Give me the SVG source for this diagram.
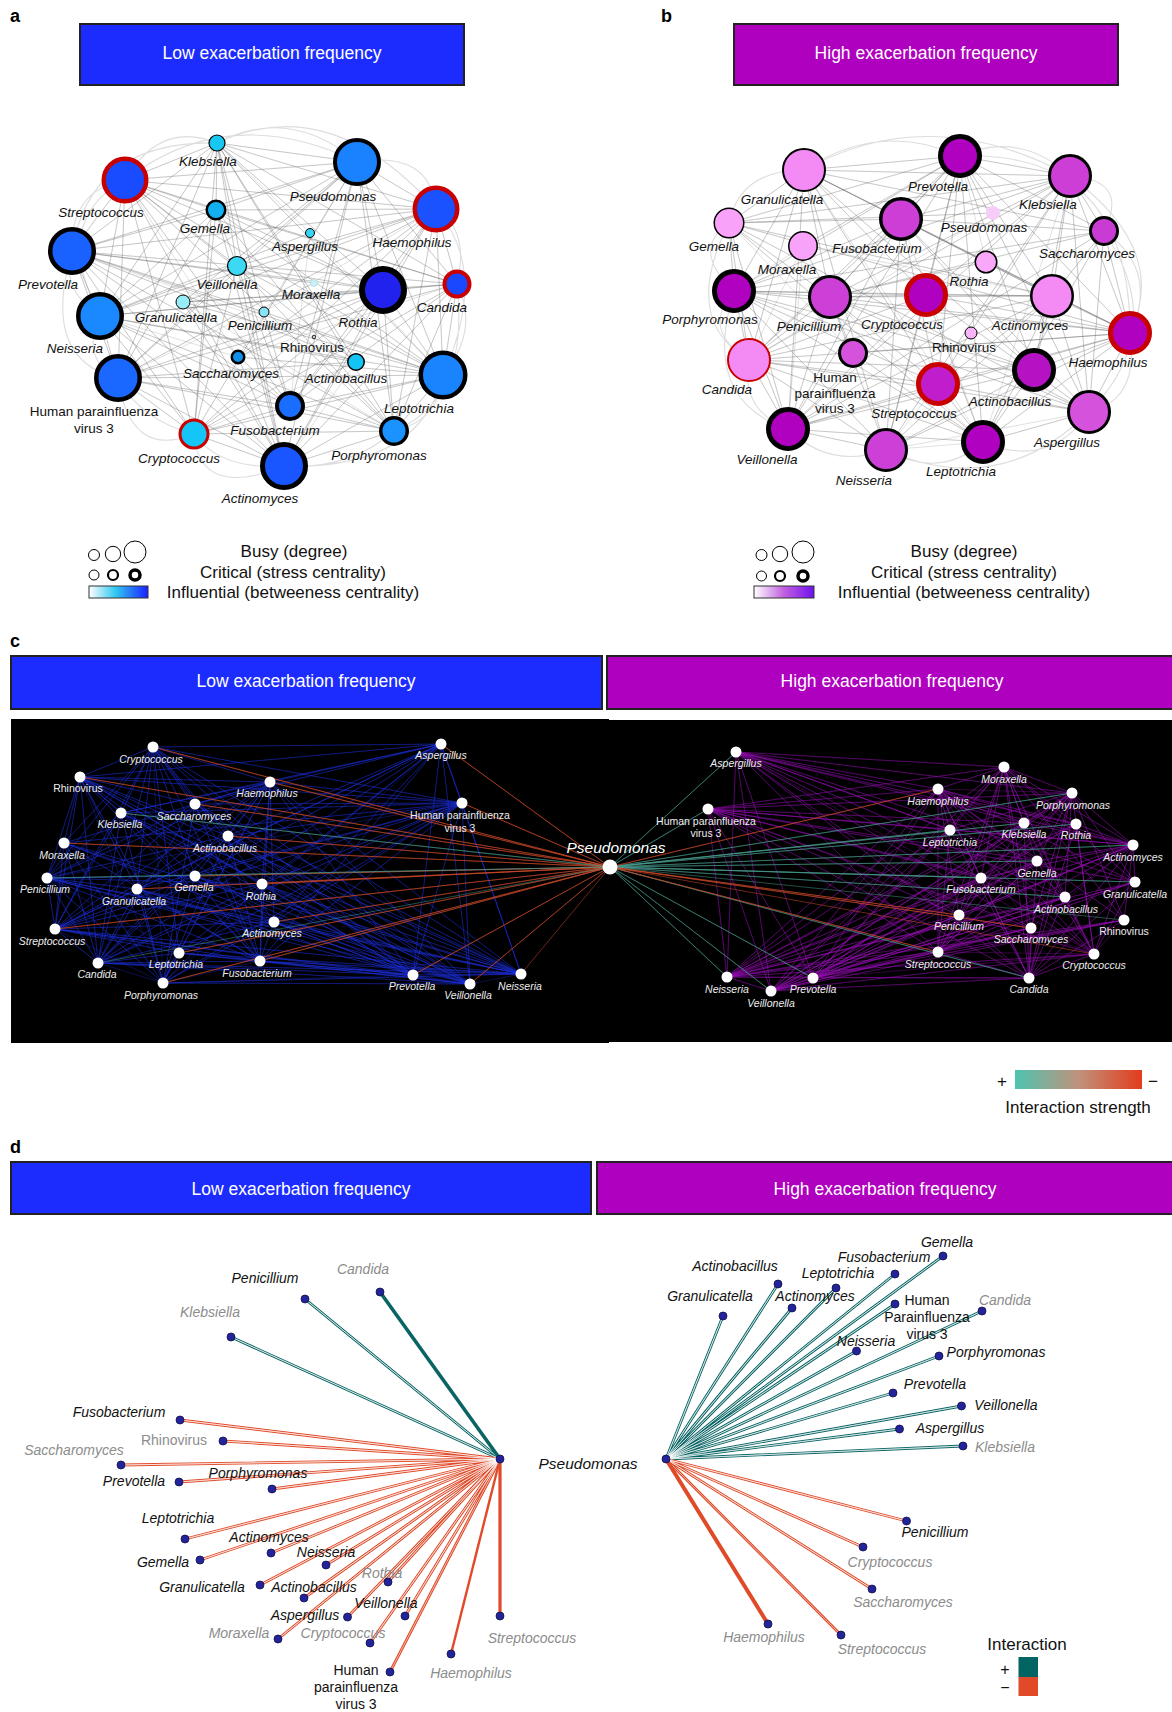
<svg xmlns="http://www.w3.org/2000/svg" width="1172" height="1712" viewBox="0 0 1172 1712">
<defs>
<linearGradient id="gA" x1="0" x2="1" y1="0" y2="0"><stop offset="0" stop-color="#ffffff"/><stop offset="0.45" stop-color="#30c8f0"/><stop offset="1" stop-color="#1a20ff"/></linearGradient>
<linearGradient id="gB" x1="0" x2="1" y1="0" y2="0"><stop offset="0" stop-color="#ffffff"/><stop offset="0.5" stop-color="#c060e0"/><stop offset="1" stop-color="#7010f0"/></linearGradient>
<linearGradient id="gC" x1="0" x2="1" y1="0" y2="0"><stop offset="0" stop-color="#4cc4b0"/><stop offset="0.5" stop-color="#c0927c"/><stop offset="1" stop-color="#e23c1c"/></linearGradient>
</defs>
<style>
text{font-family:"Liberation Sans",Arial,sans-serif}
.pl{font-size:18px;font-weight:bold;fill:#000}
.hd{font-size:17.5px;fill:#fff;text-anchor:middle}
.hb{stroke:#222;stroke-width:2}
.na{font-size:13.5px;font-style:italic;fill:#111;text-anchor:middle}
.nr{font-size:13.5px;fill:#111;text-anchor:middle}
.lg{font-size:17px;fill:#111;text-anchor:middle}
.nc{font-size:10.5px;font-style:italic;fill:#eee;text-anchor:middle}
.ncr{font-size:10.5px;fill:#eee;text-anchor:middle}
.nd{font-size:14px;font-style:italic;fill:#111;text-anchor:middle}
.ndr{font-size:14px;fill:#111;text-anchor:middle}
.ng{font-size:14px;font-style:italic;fill:#8c8c8c;text-anchor:middle}
.ngr{font-size:14px;fill:#8c8c8c;text-anchor:middle}
.k{stroke:#000}
.r{stroke:#c80000}
.ea{fill:none;stroke:#606060;stroke-width:0.8;stroke-opacity:0.24;stroke-linejoin:round}
.ec{fill:none;stroke:#909090;stroke-width:1.1;stroke-opacity:0.3}
.cb{fill:none;stroke:#2030e0;stroke-width:0.6;stroke-opacity:0.55;stroke-linejoin:round}
.cp{fill:none;stroke:#9a10b8;stroke-width:0.6;stroke-opacity:0.55;stroke-linejoin:round}
.cr{fill:none;stroke:#d04a2a;stroke-width:0.7;stroke-opacity:0.75;stroke-linejoin:round}
.ct{fill:none;stroke:#4aa090;stroke-width:0.7;stroke-opacity:0.7;stroke-linejoin:round}
.wd{fill:#fff}
.dT{fill:none;stroke:#0a6464;stroke-width:2.8;stroke-linejoin:round}
.dR{fill:none;stroke:#e04a28;stroke-width:2.8;stroke-linejoin:round}
.dW{fill:none;stroke:#fff;stroke-width:0.7;stroke-opacity:0.85;stroke-linejoin:round}
.dot{fill:#24249a;stroke:#10104a;stroke-width:0.8}
.lc{fill:#fff;stroke:#000}
</style>
<rect width="1172" height="1712" fill="#fff"/>

<text class="pl" x="10" y="22">a</text>
<text class="pl" x="661" y="22">b</text>
<text class="pl" x="10" y="647">c</text>
<text class="pl" x="10" y="1153">d</text>
<g id="hdr-a"><rect class="hb" x="80" y="24" width="384" height="61" fill="#1c2cff"/><text class="hd" x="272" y="59">Low exacerbation frequency</text></g>
<g id="hdr-b"><rect class="hb" x="734" y="24" width="384" height="61" fill="#b000bf"/><text class="hd" x="926" y="59">High exacerbation frequency</text></g>
<g id="hdr-c-low"><rect class="hb" x="11" y="656" width="591" height="53" fill="#1c2cff"/><text class="hd" x="306" y="687">Low exacerbation frequency</text></g>
<g id="hdr-c-high"><rect class="hb" x="607" y="656" width="570" height="53" fill="#b000bf"/><text class="hd" x="892" y="687">High exacerbation frequency</text></g>
<g id="hdr-d-low"><rect class="hb" x="11" y="1162" width="580" height="52" fill="#1c2cff"/><text class="hd" x="301" y="1195">Low exacerbation frequency</text></g>
<g id="hdr-d-high"><rect class="hb" x="597" y="1162" width="580" height="52" fill="#b000bf"/><text class="hd" x="885" y="1195">High exacerbation frequency</text></g>

<rect x="11" y="719" width="598" height="324" fill="#000"/>
<rect x="602" y="720" width="570" height="322" fill="#000"/>

<g id="connectors">
<g id="edges-a">
<path class="ea" d="M383 290 217 143 383 290 125 180 383 290 357 162 383 290 436 209 383 290 216 210 383 290 72 251 383 290 237 266 383 290 183 302 383 290 100 316 383 290 238 357 383 290 118 378 383 290 290 406 383 290 194 434 383 290 284 466 383 290 394 431 383 290 443 375 383 290 457 284"/>
<path class="ea" d="M284 466 125 180 284 466 357 162 284 466 436 209 284 466 72 251 284 466 100 316 284 466 118 378 284 466 183 302 284 466 216 210 284 466 237 266 284 466 217 143 284 466 443 375 284 466 457 284 284 466 394 431 284 466 194 434 284 466 238 357 284 466 356 362"/>
<path class="ea" d="M357 162 217 143 357 162 125 180 357 162 436 209 357 162 216 210 357 162 72 251 357 162 100 316 357 162 118 378 357 162 443 375 357 162 457 284 357 162 290 406 357 162 394 431 357 162 194 434 357 162 237 266 357 162 183 302 357 162 238 357"/>
<path class="ea" d="M72 251 217 143 72 251 125 180 72 251 436 209 72 251 216 210 72 251 100 316 72 251 118 378 72 251 443 375 72 251 457 284 72 251 290 406 72 251 394 431 72 251 194 434 72 251 314 283 72 251 264 312 72 251 356 362 72 251 314 337"/>
<path class="ea" d="M100 316 217 143 100 316 125 180 100 316 436 209 100 316 216 210 100 316 118 378 100 316 443 375 100 316 457 284 100 316 290 406 100 316 394 431 100 316 194 434 100 316 356 362 100 316 310 233 100 316 237 266 100 316 238 357"/>
<path class="ea" d="M443 375 217 143 443 375 125 180 443 375 436 209 443 375 216 210 443 375 118 378 443 375 457 284 443 375 290 406 443 375 394 431 443 375 194 434 443 375 237 266 443 375 183 302 443 375 264 312 443 375 238 357 443 375 310 233"/>
<path class="ea" d="M436 209 125 180 436 209 217 143 436 209 216 210 436 209 118 378 436 209 457 284 436 209 290 406 436 209 394 431 436 209 194 434 436 209 237 266 436 209 183 302 436 209 238 357 436 209 264 312"/>
<path class="ea" d="M118 378 217 143 118 378 125 180 118 378 216 210 118 378 457 284 118 378 290 406 118 378 394 431 118 378 194 434 118 378 237 266 118 378 356 362 118 378 314 283"/>
<path class="ea" d="M125 180 217 143 125 180 216 210 125 180 457 284 125 180 290 406 125 180 394 431 125 180 194 434 125 180 237 266 125 180 356 362 125 180 238 357"/>
<path class="ea" d="M290 406 217 143 290 406 216 210 290 406 457 284 290 406 394 431 290 406 194 434 290 406 183 302 290 406 310 233 M457 284 217 143 457 284 216 210 457 284 394 431 457 284 194 434 457 284 183 302 457 284 238 357 M394 431 217 143 394 431 216 210 394 431 194 434 394 431 237 266 394 431 183 302 M194 434 217 143 194 434 216 210 194 434 237 266 194 434 356 362 M217 143 216 210 217 143 237 266 217 143 356 362 217 143 310 233"/>
<path class="ec" d="M217 143Q290 105 357 162M125 180Q160 120 217 143M72 251Q70 190 125 180M436 209Q470 230 457 284M457 284Q480 330 443 375M443 375Q440 420 394 431M394 431Q350 470 284 466M284 466Q220 470 194 434M194 434Q140 420 118 378M118 378Q80 360 100 316M100 316Q60 290 72 251M217 143Q330 90 436 209M125 180Q230 100 357 162M72 251Q40 360 118 378M118 378Q130 460 194 434M457 284Q470 400 394 431M436 209Q490 270 443 375M357 162Q430 150 436 209M125 180Q50 220 100 316M194 434Q200 500 284 466M72 251Q90 140 217 143M443 375Q420 470 284 466"/>
</g>
<g id="edges-b">
<path class="ea" d="M830 297 960 156 830 297 804 170 830 297 1070 176 830 297 729 223 830 297 901 219 830 297 803 246 830 297 1104 231 830 297 986 262 830 297 734 291 830 297 926 295 830 297 1052 296 830 297 1130 333 830 297 749 360 830 297 853 353 830 297 938 384 830 297 1034 370 830 297 788 429 830 297 1089 412 830 297 886 450 830 297 983 442"/>
<path class="ea" d="M901 219 960 156 901 219 804 170 901 219 1070 176 901 219 729 223 901 219 1104 231 901 219 734 291 901 219 1052 296 901 219 1130 333 901 219 749 360 901 219 938 384 901 219 1034 370 901 219 788 429 901 219 1089 412 901 219 886 450 901 219 983 442"/>
<path class="ea" d="M804 170 960 156 804 170 1070 176 804 170 729 223 804 170 1104 231 804 170 734 291 804 170 926 295 804 170 1052 296 804 170 1130 333 804 170 749 360 804 170 938 384 804 170 1034 370 804 170 788 429 804 170 886 450 804 170 983 442"/>
<path class="ea" d="M1130 333 960 156 1130 333 1070 176 1130 333 729 223 1130 333 1104 231 1130 333 734 291 1130 333 926 295 1130 333 1052 296 1130 333 749 360 1130 333 938 384 1130 333 1034 370 1130 333 788 429 1130 333 1089 412 1130 333 886 450 1130 333 983 442 1130 333 986 262"/>
<path class="ea" d="M788 429 960 156 788 429 1070 176 788 429 729 223 788 429 1104 231 788 429 734 291 788 429 926 295 788 429 1052 296 788 429 749 360 788 429 938 384 788 429 1034 370 788 429 886 450 788 429 983 442 788 429 803 246"/>
<path class="ea" d="M1052 296 960 156 1052 296 1070 176 1052 296 729 223 1052 296 1104 231 1052 296 734 291 1052 296 926 295 1052 296 749 360 1052 296 938 384 1052 296 1034 370 1052 296 1089 412 1052 296 886 450 1052 296 983 442 1052 296 803 246"/>
<path class="ea" d="M734 291 960 156 734 291 1070 176 734 291 729 223 734 291 1104 231 734 291 926 295 734 291 749 360 734 291 938 384 734 291 1034 370 734 291 1089 412 734 291 886 450 734 291 983 442 734 291 803 246"/>
<path class="ea" d="M960 156 1070 176 960 156 729 223 960 156 1104 231 960 156 926 295 960 156 749 360 960 156 938 384 960 156 1034 370 960 156 1089 412 960 156 886 450 960 156 983 442 960 156 803 246 960 156 986 262"/>
<path class="ea" d="M749 360 1070 176 749 360 729 223 749 360 926 295 749 360 938 384 749 360 1034 370 749 360 1089 412 749 360 886 450 749 360 983 442 749 360 803 246 M1070 176 729 223 1070 176 1104 231 1070 176 926 295 1070 176 938 384 1070 176 1034 370 1070 176 1089 412 1070 176 886 450 1070 176 983 442 M983 442 729 223 983 442 1104 231 983 442 926 295 983 442 938 384 983 442 1034 370 983 442 1089 412 983 442 886 450 M1089 412 729 223 1089 412 1104 231 1089 412 926 295 1089 412 938 384 1089 412 886 450 M886 450 926 295 886 450 1034 370 886 450 938 384 M853 353 983 442 853 353 1130 333 853 353 729 223 M993 213 729 223 993 213 749 360"/>
<path class="ec" d="M804 170Q880 120 960 156M960 156Q1020 130 1070 176M1070 176Q1130 180 1104 231M1104 231Q1160 270 1130 333M1130 333Q1140 400 1089 412M1089 412Q1050 470 983 442M983 442Q940 480 886 450M886 450Q830 470 788 429M788 429Q740 410 749 360M749 360Q700 330 734 291M734 291Q690 250 729 223M729 223Q740 170 804 170M729 223Q680 320 749 360M1104 231Q1170 330 1089 412M804 170Q930 100 1070 176M734 291Q700 400 788 429M886 450Q1000 500 1089 412M960 156Q1130 150 1130 333M1130 333Q1170 250 1070 176"/>
</g>
<g id="edges-c">
<path class="cb" d="M521 974 153 747 521 974 80 777 521 974 270 782 521 974 441 744 521 974 462 803 521 974 121 813 521 974 195 804 521 974 228 836 521 974 64 843 521 974 47 878 521 974 195 876 521 974 137 889 521 974 262 884 521 974 274 922 521 974 55 929 521 974 179 953 521 974 98 963 521 974 260 961 521 974 163 983 521 974 413 975 521 974 470 984"/>
<path class="cb" d="M470 984 153 747 470 984 80 777 470 984 270 782 470 984 441 744 470 984 462 803 470 984 121 813 470 984 195 804 470 984 228 836 470 984 64 843 470 984 47 878 470 984 195 876 470 984 137 889 470 984 262 884 470 984 274 922 470 984 55 929 470 984 179 953 470 984 98 963 470 984 260 961 470 984 163 983 470 984 413 975"/>
<path class="cb" d="M413 975 153 747 413 975 80 777 413 975 270 782 413 975 441 744 413 975 462 803 413 975 121 813 413 975 195 804 413 975 228 836 413 975 64 843 413 975 47 878 413 975 195 876 413 975 137 889 413 975 262 884 413 975 274 922 413 975 55 929 413 975 179 953 413 975 98 963 413 975 260 961 413 975 163 983"/>
<path class="cb" d="M98 963 153 747 98 963 80 777 98 963 270 782 98 963 441 744 98 963 462 803 98 963 121 813 98 963 195 804 98 963 228 836 98 963 64 843 98 963 47 878 98 963 195 876 98 963 137 889 98 963 262 884 98 963 274 922 98 963 55 929 98 963 179 953 98 963 260 961 98 963 163 983"/>
<path class="cb" d="M441 744 153 747 441 744 270 782 441 744 462 803 441 744 121 813 441 744 195 804 441 744 228 836 441 744 195 876 441 744 262 884 441 744 274 922 441 744 55 929 441 744 179 953 441 744 260 961 441 744 80 777 441 744 137 889 441 744 163 983"/>
<path class="cb" d="M462 803 153 747 462 803 80 777 462 803 270 782 462 803 121 813 462 803 195 804 462 803 228 836 462 803 195 876 462 803 262 884 462 803 274 922 462 803 55 929 462 803 179 953 462 803 260 961 462 803 163 983 462 803 137 889 462 803 64 843 462 803 47 878"/>
<path class="cb" d="M55 929 153 747 55 929 80 777 55 929 270 782 55 929 121 813 55 929 195 804 55 929 228 836 55 929 64 843 55 929 47 878 55 929 195 876 55 929 137 889 55 929 262 884 55 929 274 922 55 929 179 953 55 929 260 961 55 929 163 983"/>
<path class="cb" d="M80 777 153 747 80 777 270 782 80 777 121 813 80 777 195 804 80 777 228 836 80 777 64 843 80 777 47 878 80 777 195 876 80 777 137 889 80 777 262 884 80 777 274 922 80 777 179 953 80 777 260 961 80 777 163 983"/>
<path class="cb" d="M153 747 270 782 153 747 121 813 153 747 195 804 153 747 228 836 153 747 64 843 153 747 47 878 153 747 195 876 153 747 137 889 153 747 262 884 153 747 274 922 153 747 179 953 153 747 260 961 153 747 163 983"/>
<path class="cb" d="M163 983 270 782 163 983 121 813 163 983 195 804 163 983 228 836 163 983 64 843 163 983 47 878 163 983 195 876 163 983 137 889 163 983 262 884 163 983 274 922 163 983 179 953 163 983 260 961"/>
<path class="cb" d="M260 961 270 782 260 961 121 813 260 961 195 804 260 961 228 836 260 961 64 843 260 961 47 878 260 961 195 876 260 961 137 889 260 961 262 884 260 961 274 922 260 961 179 953"/>
<path class="cb" d="M47 878 270 782 47 878 121 813 47 878 195 804 47 878 228 836 47 878 64 843 47 878 195 876 47 878 137 889 47 878 262 884 47 878 274 922 47 878 179 953 M270 782 121 813 270 782 195 804 270 782 228 836 270 782 64 843 270 782 195 876 270 782 137 889 270 782 262 884 270 782 274 922 270 782 179 953"/>
<path class="cp" d="M1029 978 736 752 1029 978 708 809 1029 978 1004 767 1029 978 938 789 1029 978 1072 793 1029 978 950 830 1029 978 1024 823 1029 978 1076 824 1029 978 1133 845 1029 978 1037 861 1029 978 981 878 1029 978 1135 882 1029 978 1065 897 1029 978 959 915 1029 978 1124 920 1029 978 1031 928 1029 978 938 952 1029 978 1094 954 1029 978 727 977 1029 978 771 991 1029 978 813 978"/>
<path class="cp" d="M727 977 736 752 727 977 708 809 727 977 1004 767 727 977 938 789 727 977 1072 793 727 977 950 830 727 977 1024 823 727 977 1076 824 727 977 1133 845 727 977 1037 861 727 977 981 878 727 977 1135 882 727 977 1065 897 727 977 959 915 727 977 1124 920 727 977 1031 928 727 977 938 952 727 977 1094 954 727 977 771 991 727 977 813 978"/>
<path class="cp" d="M771 991 736 752 771 991 708 809 771 991 1004 767 771 991 938 789 771 991 1072 793 771 991 950 830 771 991 1024 823 771 991 1076 824 771 991 1133 845 771 991 1037 861 771 991 981 878 771 991 1135 882 771 991 1065 897 771 991 959 915 771 991 1124 920 771 991 1031 928 771 991 938 952 771 991 1094 954 771 991 813 978"/>
<path class="cp" d="M813 978 736 752 813 978 708 809 813 978 1004 767 813 978 938 789 813 978 1072 793 813 978 950 830 813 978 1024 823 813 978 1076 824 813 978 1133 845 813 978 1037 861 813 978 981 878 813 978 1135 882 813 978 1065 897 813 978 959 915 813 978 1124 920 813 978 1031 928 813 978 938 952 813 978 1094 954"/>
<path class="cp" d="M736 752 1004 767 736 752 938 789 736 752 1072 793 736 752 950 830 736 752 1024 823 736 752 1076 824 736 752 1133 845 736 752 1037 861 736 752 981 878 736 752 1135 882 736 752 1065 897 736 752 959 915 736 752 1031 928 736 752 938 952 736 752 1094 954"/>
<path class="cp" d="M708 809 1004 767 708 809 938 789 708 809 1072 793 708 809 950 830 708 809 1024 823 708 809 1133 845 708 809 1037 861 708 809 981 878 708 809 1135 882 708 809 1065 897 708 809 959 915 708 809 1031 928 708 809 938 952 708 809 1094 954"/>
<path class="cp" d="M1004 767 938 789 1004 767 1072 793 1004 767 950 830 1004 767 1024 823 1004 767 1076 824 1004 767 1133 845 1004 767 1037 861 1004 767 981 878 1004 767 1135 882 1004 767 1065 897 1004 767 959 915 1004 767 1124 920 1004 767 1031 928 1004 767 938 952 1004 767 1094 954"/>
<path class="cp" d="M938 952 938 789 938 952 1072 793 938 952 950 830 938 952 1024 823 938 952 1076 824 938 952 1133 845 938 952 1037 861 938 952 981 878 938 952 1135 882 938 952 1065 897 938 952 1124 920 938 952 1031 928 938 952 1094 954"/>
<path class="cp" d="M1094 954 938 789 1094 954 1072 793 1094 954 950 830 1094 954 1024 823 1094 954 1076 824 1094 954 1133 845 1094 954 1037 861 1094 954 981 878 1094 954 1135 882 1094 954 1065 897 1094 954 959 915 1094 954 1124 920"/>
<path class="cp" d="M1133 845 938 789 1133 845 1072 793 1133 845 950 830 1133 845 1024 823 1133 845 1076 824 1133 845 1037 861 1133 845 981 878 1133 845 1135 882 1133 845 1065 897 1133 845 959 915 1133 845 1124 920 1133 845 1031 928"/>
<path class="cp" d="M1072 793 950 830 1072 793 1024 823 1072 793 1037 861 1072 793 981 878 1072 793 1135 882 1072 793 1065 897 1072 793 959 915 1072 793 1124 920 1072 793 1031 928 1072 793 938 789 M938 789 950 830 938 789 1024 823 938 789 1076 824 938 789 1037 861 938 789 981 878 938 789 1135 882 938 789 1065 897 938 789 959 915 938 789 1124 920 938 789 1031 928"/>
<path class="cr" d="M610 867 153 747 610 867 80 777 610 867 270 782 610 867 441 744 610 867 462 803 610 867 195 804 610 867 228 836 610 867 64 843 610 867 195 876 610 867 137 889 610 867 262 884 610 867 274 922 610 867 55 929 610 867 179 953 610 867 260 961 610 867 163 983 610 867 413 975 610 867 470 984 610 867 521 974"/>
<path class="ct" d="M610 867 121 813 610 867 47 878 610 867 98 963"/>
<path class="ct" d="M610 867 736 752 610 867 708 809 610 867 950 830 610 867 1024 823 610 867 1076 824 610 867 1133 845 610 867 1037 861 610 867 981 878 610 867 1135 882 610 867 1065 897 610 867 1072 793 610 867 1029 978 610 867 727 977 610 867 771 991 610 867 813 978 610 867 1124 920"/>
<path class="cr" d="M610 867 938 789 610 867 959 915 610 867 938 952 610 867 1031 928 610 867 1094 954"/>
</g>
<g id="edges-d">
<path class="dT" d="M500 1459 305 1299 500 1459 231 1337"/>
<path class="dR" d="M500 1459 180 1420 500 1459 223 1441 500 1459 121 1465 500 1459 179 1482 500 1459 272 1489 500 1459 185 1539 500 1459 271 1553 500 1459 200 1560 500 1459 326 1565 500 1459 260 1585 500 1459 388 1582 500 1459 304 1598 500 1459 405 1616 500 1459 347.5 1617 500 1459 278 1639 500 1459 370 1643 500 1459 390 1672"/>
<path class="dW" d="M500 1459 305 1299 500 1459 231 1337 500 1459 180 1420 500 1459 223 1441 500 1459 121 1465 500 1459 179 1482 500 1459 272 1489 500 1459 185 1539 500 1459 271 1553 500 1459 200 1560 500 1459 326 1565 500 1459 260 1585 500 1459 388 1582 500 1459 304 1598 500 1459 405 1616 500 1459 347.5 1617 500 1459 278 1639 500 1459 370 1643 500 1459 390 1672"/>
<path d="M500 1459 380 1292" stroke="#0a6464" stroke-width="3.6" fill="none"/>
<path d="M500 1459 500 1616" stroke="#e04a28" stroke-width="3.2" fill="none"/>
<path d="M500 1459 451 1654" stroke="#e04a28" stroke-width="2.4" fill="none"/>
<path class="dT" d="M666 1459 723 1316 666 1459 778 1284 666 1459 792 1308 666 1459 836 1288 666 1459 895 1274 666 1459 943 1256 666 1459 895 1304 666 1459 982 1311 666 1459 856.5 1351 666 1459 939 1356 666 1459 893 1393 666 1459 961.5 1406 666 1459 899.5 1429 666 1459 963 1446"/>
<path class="dR" d="M666 1459 906.5 1521 666 1459 863 1547 666 1459 872 1589 666 1459 841 1635"/>
<path class="dW" d="M666 1459 723 1316 666 1459 778 1284 666 1459 792 1308 666 1459 836 1288 666 1459 895 1274 666 1459 943 1256 666 1459 895 1304 666 1459 982 1311 666 1459 856.5 1351 666 1459 939 1356 666 1459 893 1393 666 1459 961.5 1406 666 1459 899.5 1429 666 1459 963 1446 666 1459 906.5 1521 666 1459 863 1547 666 1459 872 1589 666 1459 841 1635"/>
<path d="M666 1459 768 1624" stroke="#e04a28" stroke-width="4" fill="none"/>
</g>
</g>

<g id="a-klebsiella"><circle class="k" cx="217" cy="143" r="8" stroke-width="1.2" fill="#18c8f0"/><text class="na" x="208" y="166">Klebsiella</text></g>
<g id="a-streptococcus"><circle class="r" cx="125" cy="180" r="21.25" stroke-width="4.5" fill="#1a4cff"/><text class="na" x="101" y="217">Streptococcus</text></g>
<g id="a-pseudomonas"><circle class="k" cx="357" cy="162" r="22" stroke-width="4" fill="#1a82ff"/><text class="na" x="333" y="201">Pseudomonas</text></g>
<g id="a-haemophilus"><circle class="r" cx="436" cy="209" r="21.25" stroke-width="4.5" fill="#1a52ff"/><text class="na" x="412" y="247">Haemophilus</text></g>
<g id="a-gemella"><circle class="k" cx="216" cy="210" r="9.25" stroke-width="2.5" fill="#12b0f0"/><text class="na" x="205" y="233">Gemella</text></g>
<g id="a-aspergillus"><circle class="k" cx="310" cy="233" r="4.5" stroke-width="1" fill="#38d4f4"/><text class="na" x="305" y="251">Aspergillus</text></g>
<g id="a-prevotella"><circle class="k" cx="72" cy="251" r="21.75" stroke-width="4.5" fill="#1a62ff"/><text class="na" x="48" y="289">Prevotella</text></g>
<g id="a-veillonella"><circle class="k" cx="237" cy="266" r="9.5" stroke-width="1.2" fill="#3cd8f4"/><text class="na" x="227" y="289">Veillonella</text></g>
<g id="a-moraxella"><circle cx="314" cy="283" r="3.5" stroke="#9cc" stroke-width="0.5" fill="#c8f2f8"/><text class="na" x="311" y="299">Moraxella</text></g>
<g id="a-rothia"><circle class="k" cx="383" cy="290" r="21" stroke-width="6" fill="#2222ee"/><text class="na" x="358" y="327">Rothia</text></g>
<g id="a-candida"><circle class="r" cx="457" cy="284" r="12.5" stroke-width="4" fill="#1a48ff"/><text class="na" x="442" y="312">Candida</text></g>
<g id="a-granulicatella"><circle class="k" cx="183" cy="302" r="7" stroke-width="1" fill="#98ecf8"/><text class="na" x="176" y="322">Granulicatella</text></g>
<g id="a-penicillium"><circle class="k" cx="264" cy="312" r="5" stroke-width="1" fill="#88e4f4"/><text class="na" x="260" y="330">Penicillium</text></g>
<g id="a-neisseria"><circle class="k" cx="100" cy="316" r="21.75" stroke-width="4.5" fill="#1a88ff"/><text class="na" x="75" y="353">Neisseria</text></g>
<g id="a-rhinovirus"><circle class="k" cx="314" cy="337" r="1.8" stroke-width="0.8" fill="#ccc"/><text class="nr" x="312" y="352">Rhinovirus</text></g>
<g id="a-saccharomyces"><circle class="k" cx="238" cy="357" r="6.25" stroke-width="2.5" fill="#1090e8"/><text class="na" x="231" y="378">Saccharomyces</text></g>
<g id="a-actinobacillus"><circle class="k" cx="356" cy="362" r="8.25" stroke-width="1.5" fill="#14c4f4"/><text class="na" x="346" y="383">Actinobacillus</text></g>
<g id="a-leptotrichia"><circle class="k" cx="443" cy="375" r="22.25" stroke-width="4.5" fill="#1a84ff"/><text class="na" x="419" y="413">Leptotrichia</text></g>
<g id="a-hpiv3"><circle class="k" cx="118" cy="378" r="21.75" stroke-width="4.5" fill="#1a68ff"/><text class="nr" x="94" y="416">Human parainfluenza</text><text class="nr" x="94" y="433">virus 3</text></g>
<g id="a-fusobacterium"><circle class="k" cx="290" cy="406" r="13" stroke-width="4" fill="#1a6eff"/><text class="na" x="275" y="435">Fusobacterium</text></g>
<g id="a-porphyromonas"><circle class="k" cx="394" cy="431" r="13.25" stroke-width="3.5" fill="#1a92ff"/><text class="na" x="379" y="460">Porphyromonas</text></g>
<g id="a-cryptococcus"><circle class="r" cx="194" cy="434" r="14" stroke-width="3" fill="#14c6f8"/><text class="na" x="179" y="463">Cryptococcus</text></g>
<g id="a-actinomyces"><circle class="k" cx="284" cy="466" r="21.5" stroke-width="5" fill="#1a56ff"/><text class="na" x="260" y="503">Actinomyces</text></g>

<g id="legend-a">
<circle class="lc" cx="94" cy="555" r="5.5" stroke-width="1"/><circle class="lc" cx="113" cy="554" r="7.7" stroke-width="1"/><circle class="lc" cx="135" cy="552" r="11" stroke-width="1"/>
<circle class="lc" cx="94" cy="575" r="5" stroke-width="1"/><circle class="lc" cx="113" cy="575" r="5" stroke-width="2.2"/><circle class="lc" cx="135" cy="575" r="5" stroke-width="3.5"/>
<rect x="89" y="586" width="59" height="12" fill="url(#gA)" stroke="#333" stroke-width="1"/>
<text class="lg" x="294" y="557">Busy (degree)</text><text class="lg" x="293" y="578">Critical (stress centrality)</text><text class="lg" x="293" y="598">Influential (betweeness centrality)</text>
</g>

<g id="b-prevotella"><circle class="k" cx="960" cy="156" r="19.5" stroke-width="5" fill="#b000c0"/><text class="na" x="938" y="191">Prevotella</text></g>
<g id="b-granulicatella"><circle class="k" cx="804" cy="170" r="21" stroke-width="2" fill="#f48af4"/><text class="na" x="782" y="204">Granulicatella</text></g>
<g id="b-klebsiella"><circle class="k" cx="1070" cy="176" r="20.5" stroke-width="3" fill="#cc3ed6"/><text class="na" x="1048" y="209">Klebsiella</text></g>
<g id="b-pseudomonas"><circle cx="993" cy="213" r="7" fill="#f8ccf8"/><text class="na" x="984" y="232">Pseudomonas</text></g>
<g id="b-gemella"><circle class="k" cx="729" cy="223" r="14.75" stroke-width="1.5" fill="#f9a2f9"/><text class="na" x="714" y="251">Gemella</text></g>
<g id="b-fusobacterium"><circle class="k" cx="901" cy="219" r="20.25" stroke-width="3.5" fill="#cc3ed6"/><text class="na" x="877" y="253">Fusobacterium</text></g>
<g id="b-moraxella"><circle class="k" cx="803" cy="246" r="14.25" stroke-width="1.5" fill="#f9a2f9"/><text class="na" x="787" y="274">Moraxella</text></g>
<g id="b-saccharomyces"><circle class="k" cx="1104" cy="231" r="13.5" stroke-width="3" fill="#c83cd4"/><text class="na" x="1087" y="258">Saccharomyces</text></g>
<g id="b-rothia"><circle class="k" cx="986" cy="262" r="10.75" stroke-width="1.5" fill="#f9a8f9"/><text class="na" x="969" y="286">Rothia</text></g>
<g id="b-porphyromonas"><circle class="k" cx="734" cy="291" r="19.5" stroke-width="5" fill="#b000c0"/><text class="na" x="710" y="324">Porphyromonas</text></g>
<g id="b-penicillium"><circle class="k" cx="830" cy="297" r="20.5" stroke-width="3" fill="#cc40d8"/><text class="na" x="809" y="331">Penicillium</text></g>
<g id="b-cryptococcus"><circle class="r" cx="926" cy="295" r="19.5" stroke-width="5" fill="#b000c0"/><text class="na" x="902" y="329">Cryptococcus</text></g>
<g id="b-actinomyces"><circle class="k" cx="1052" cy="296" r="20.75" stroke-width="2.5" fill="#f48af4"/><text class="na" x="1030" y="330">Actinomyces</text></g>
<g id="b-rhinovirus"><circle class="k" cx="971" cy="333" r="6" stroke-width="1" fill="#f8b4f8"/><text class="nr" x="964" y="352">Rhinovirus</text></g>
<g id="b-haemophilus"><circle class="r" cx="1130" cy="333" r="19.5" stroke-width="5" fill="#b000c0"/><text class="na" x="1108" y="367">Haemophilus</text></g>
<g id="b-candida"><circle class="r" cx="749" cy="360" r="21" stroke-width="2" fill="#f48af4"/><text class="na" x="727" y="394">Candida</text></g>
<g id="b-hpiv3"><circle class="k" cx="853" cy="353" r="13.5" stroke-width="3" fill="#d452dc"/><text class="nr" x="835" y="382">Human</text><text class="nr" x="835" y="398">parainfluenza</text><text class="nr" x="835" y="413">virus 3</text></g>
<g id="b-streptococcus"><circle class="r" cx="938" cy="384" r="19.5" stroke-width="5" fill="#c01ecc"/><text class="na" x="914" y="418">Streptococcus</text></g>
<g id="b-actinobacillus"><circle class="k" cx="1034" cy="370" r="19.5" stroke-width="5" fill="#b412c2"/><text class="na" x="1010" y="406">Actinobacillus</text></g>
<g id="b-veillonella"><circle class="k" cx="788" cy="429" r="19.5" stroke-width="5" fill="#b000c0"/><text class="na" x="767" y="464">Veillonella</text></g>
<g id="b-aspergillus"><circle class="k" cx="1089" cy="412" r="20.5" stroke-width="3" fill="#d452dc"/><text class="na" x="1067" y="447">Aspergillus</text></g>
<g id="b-neisseria"><circle class="k" cx="886" cy="450" r="20.5" stroke-width="3" fill="#cc40d8"/><text class="na" x="864" y="485">Neisseria</text></g>
<g id="b-leptotrichia"><circle class="k" cx="983" cy="442" r="19.5" stroke-width="5" fill="#b000c0"/><text class="na" x="961" y="476">Leptotrichia</text></g>

<g id="legend-b">
<circle class="lc" cx="761.5" cy="555" r="5.5" stroke-width="1"/><circle class="lc" cx="780" cy="554" r="7.7" stroke-width="1"/><circle class="lc" cx="803" cy="552" r="11" stroke-width="1"/>
<circle class="lc" cx="761.5" cy="576" r="5" stroke-width="1"/><circle class="lc" cx="780" cy="576" r="5" stroke-width="2.2"/><circle class="lc" cx="803" cy="576" r="5" stroke-width="3.5"/>
<rect x="754" y="586" width="60" height="12" fill="url(#gB)" stroke="#333" stroke-width="1"/>
<text class="lg" x="964" y="557">Busy (degree)</text><text class="lg" x="964" y="578">Critical (stress centrality)</text><text class="lg" x="964" y="598">Influential (betweeness centrality)</text>
</g>

<g id="c-pseudomonas"><circle class="wd" cx="610" cy="867" r="7.5"/><text x="616" y="853" font-size="15.5" font-style="italic" fill="#fff" text-anchor="middle">Pseudomonas</text></g>
<g id="c-low-nodes">
<g id="cl-cryptococcus"><circle class="wd" cx="153" cy="747" r="5.5"/><text class="nc" x="151" y="763">Cryptococcus</text></g>
<g id="cl-rhinovirus"><circle class="wd" cx="80" cy="777" r="5.5"/><text class="ncr" x="78" y="792">Rhinovirus</text></g>
<g id="cl-haemophilus"><circle class="wd" cx="270" cy="782" r="5.5"/><text class="nc" x="267" y="797">Haemophilus</text></g>
<g id="cl-aspergillus"><circle class="wd" cx="441" cy="744" r="5.5"/><text class="nc" x="441" y="759">Aspergillus</text></g>
<g id="cl-hpiv3"><circle class="wd" cx="462" cy="803" r="5.5"/><text class="ncr" x="460" y="819">Human parainfluenza</text><text class="ncr" x="460" y="832">virus 3</text></g>
<g id="cl-klebsiella"><circle class="wd" cx="121" cy="813" r="5.5"/><text class="nc" x="120" y="828">Klebsiella</text></g>
<g id="cl-saccharomyces"><circle class="wd" cx="195" cy="804" r="5.5"/><text class="nc" x="194" y="820">Saccharomyces</text></g>
<g id="cl-actinobacillus"><circle class="wd" cx="228" cy="836" r="5.5"/><text class="nc" x="225" y="852">Actinobacillus</text></g>
<g id="cl-moraxella"><circle class="wd" cx="64" cy="843" r="5.5"/><text class="nc" x="62" y="859">Moraxella</text></g>
<g id="cl-penicillium"><circle class="wd" cx="47" cy="878" r="5.5"/><text class="nc" x="45" y="893">Penicillium</text></g>
<g id="cl-gemella"><circle class="wd" cx="195" cy="876" r="5.5"/><text class="nc" x="194" y="891">Gemella</text></g>
<g id="cl-granulicatella"><circle class="wd" cx="137" cy="889" r="5.5"/><text class="nc" x="134" y="905">Granulicatella</text></g>
<g id="cl-rothia"><circle class="wd" cx="262" cy="884" r="5.5"/><text class="nc" x="261" y="900">Rothia</text></g>
<g id="cl-actinomyces"><circle class="wd" cx="274" cy="922" r="5.5"/><text class="nc" x="272" y="937">Actinomyces</text></g>
<g id="cl-streptococcus"><circle class="wd" cx="55" cy="929" r="5.5"/><text class="nc" x="52" y="945">Streptococcus</text></g>
<g id="cl-leptotrichia"><circle class="wd" cx="179" cy="953" r="5.5"/><text class="nc" x="176" y="968">Leptotrichia</text></g>
<g id="cl-candida"><circle class="wd" cx="98" cy="963" r="5.5"/><text class="nc" x="97" y="978">Candida</text></g>
<g id="cl-fusobacterium"><circle class="wd" cx="260" cy="961" r="5.5"/><text class="nc" x="257" y="977">Fusobacterium</text></g>
<g id="cl-porphyromonas"><circle class="wd" cx="163" cy="983" r="5.5"/><text class="nc" x="161" y="999">Porphyromonas</text></g>
<g id="cl-prevotella"><circle class="wd" cx="413" cy="975" r="5.5"/><text class="nc" x="412" y="990">Prevotella</text></g>
<g id="cl-veillonella"><circle class="wd" cx="470" cy="984" r="5.5"/><text class="nc" x="468" y="999">Veillonella</text></g>
<g id="cl-neisseria"><circle class="wd" cx="521" cy="974" r="5.5"/><text class="nc" x="520" y="990">Neisseria</text></g>
</g>
<g id="c-high-nodes">
<g id="ch-aspergillus"><circle class="wd" cx="736" cy="752" r="5.5"/><text class="nc" x="736" y="767">Aspergillus</text></g>
<g id="ch-hpiv3"><circle class="wd" cx="708" cy="809" r="5.5"/><text class="ncr" x="706" y="825">Human parainfluenza</text><text class="ncr" x="706" y="837">virus 3</text></g>
<g id="ch-moraxella"><circle class="wd" cx="1004" cy="767" r="5.5"/><text class="nc" x="1004" y="783">Moraxella</text></g>
<g id="ch-haemophilus"><circle class="wd" cx="938" cy="789" r="5.5"/><text class="nc" x="938" y="805">Haemophilus</text></g>
<g id="ch-porphyromonas"><circle class="wd" cx="1072" cy="793" r="5.5"/><text class="nc" x="1073" y="809">Porphyromonas</text></g>
<g id="ch-leptotrichia"><circle class="wd" cx="950" cy="830" r="5.5"/><text class="nc" x="950" y="846">Leptotrichia</text></g>
<g id="ch-klebsiella"><circle class="wd" cx="1024" cy="823" r="5.5"/><text class="nc" x="1024" y="838">Klebsiella</text></g>
<g id="ch-rothia"><circle class="wd" cx="1076" cy="824" r="5.5"/><text class="nc" x="1076" y="839">Rothia</text></g>
<g id="ch-actinomyces"><circle class="wd" cx="1133" cy="845" r="5.5"/><text class="nc" x="1133" y="861">Actinomyces</text></g>
<g id="ch-gemella"><circle class="wd" cx="1037" cy="861" r="5.5"/><text class="nc" x="1037" y="877">Gemella</text></g>
<g id="ch-fusobacterium"><circle class="wd" cx="981" cy="878" r="5.5"/><text class="nc" x="981" y="893">Fusobacterium</text></g>
<g id="ch-granulicatella"><circle class="wd" cx="1135" cy="882" r="5.5"/><text class="nc" x="1135" y="898">Granulicatella</text></g>
<g id="ch-actinobacillus"><circle class="wd" cx="1065" cy="897" r="5.5"/><text class="nc" x="1066" y="913">Actinobacillus</text></g>
<g id="ch-penicillium"><circle class="wd" cx="959" cy="915" r="5.5"/><text class="nc" x="959" y="930">Penicillium</text></g>
<g id="ch-rhinovirus"><circle class="wd" cx="1124" cy="920" r="5.5"/><text class="ncr" x="1124" y="935">Rhinovirus</text></g>
<g id="ch-saccharomyces"><circle class="wd" cx="1031" cy="928" r="5.5"/><text class="nc" x="1031" y="943">Saccharomyces</text></g>
<g id="ch-streptococcus"><circle class="wd" cx="938" cy="952" r="5.5"/><text class="nc" x="938" y="968">Streptococcus</text></g>
<g id="ch-cryptococcus"><circle class="wd" cx="1094" cy="954" r="5.5"/><text class="nc" x="1094" y="969">Cryptococcus</text></g>
<g id="ch-candida"><circle class="wd" cx="1029" cy="978" r="5.5"/><text class="nc" x="1029" y="993">Candida</text></g>
<g id="ch-neisseria"><circle class="wd" cx="727" cy="977" r="5.5"/><text class="nc" x="727" y="993">Neisseria</text></g>
<g id="ch-veillonella"><circle class="wd" cx="771" cy="991" r="5.5"/><text class="nc" x="771" y="1007">Veillonella</text></g>
<g id="ch-prevotella"><circle class="wd" cx="813" cy="978" r="5.5"/><text class="nc" x="813" y="993">Prevotella</text></g>
</g>

<g id="legend-c">
<text x="1002" y="1087" font-size="17" fill="#111" text-anchor="middle">+</text>
<rect x="1015" y="1070" width="127" height="19" fill="url(#gC)"/>
<text x="1153" y="1087" font-size="17" fill="#111" text-anchor="middle">−</text>
<text class="lg" x="1078" y="1113">Interaction strength</text>
</g>

<g id="d-low-nodes">
<g id="dl-pseudomonas"><circle class="dot" cx="500" cy="1459" r="4"/></g>
<g id="dl-candida"><circle class="dot" cx="380" cy="1292" r="4"/><text class="ng" x="363" y="1274">Candida</text></g>
<g id="dl-penicillium"><circle class="dot" cx="305" cy="1299" r="4"/><text class="nd" x="265" y="1283">Penicillium</text></g>
<g id="dl-klebsiella"><circle class="dot" cx="231" cy="1337" r="4"/><text class="ng" x="210" y="1317">Klebsiella</text></g>
<g id="dl-fusobacterium"><circle class="dot" cx="180" cy="1420" r="4"/><text class="nd" x="119" y="1417">Fusobacterium</text></g>
<g id="dl-rhinovirus"><circle class="dot" cx="223" cy="1441" r="4"/><text class="ngr" x="174" y="1445">Rhinovirus</text></g>
<g id="dl-saccharomyces"><circle class="dot" cx="121" cy="1465" r="4"/><text class="ng" x="74" y="1455">Saccharomyces</text></g>
<g id="dl-prevotella"><circle class="dot" cx="179" cy="1482" r="4"/><text class="nd" x="134" y="1486">Prevotella</text></g>
<g id="dl-porphyromonas"><circle class="dot" cx="272" cy="1489" r="4"/><text class="nd" x="258" y="1478">Porphyromonas</text></g>
<g id="dl-leptotrichia"><circle class="dot" cx="185" cy="1539" r="4"/><text class="nd" x="178" y="1523">Leptotrichia</text></g>
<g id="dl-actinomyces"><circle class="dot" cx="271" cy="1553" r="4"/><text class="nd" x="269" y="1542">Actinomyces</text></g>
<g id="dl-gemella"><circle class="dot" cx="200" cy="1560" r="4"/><text class="nd" x="163" y="1567">Gemella</text></g>
<g id="dl-neisseria"><circle class="dot" cx="326" cy="1565" r="4"/><text class="nd" x="326" y="1557">Neisseria</text></g>
<g id="dl-granulicatella"><circle class="dot" cx="260" cy="1585" r="4"/><text class="nd" x="202" y="1592">Granulicatella</text></g>
<g id="dl-rothia"><circle class="dot" cx="388" cy="1582" r="4"/><text class="ng" x="382" y="1578">Rothia</text></g>
<g id="dl-actinobacillus"><circle class="dot" cx="304" cy="1598" r="4"/><text class="nd" x="314" y="1592">Actinobacillus</text></g>
<g id="dl-veillonella"><circle class="dot" cx="405" cy="1616" r="4"/><text class="nd" x="386" y="1608">Veillonella</text></g>
<g id="dl-aspergillus"><circle class="dot" cx="347.5" cy="1617" r="4"/><text class="nd" x="305" y="1620">Aspergillus</text></g>
<g id="dl-moraxella"><circle class="dot" cx="278" cy="1639" r="4"/><text class="ng" x="239" y="1638">Moraxella</text></g>
<g id="dl-cryptococcus"><circle class="dot" cx="370" cy="1643" r="4"/><text class="ng" x="343" y="1638">Cryptococcus</text></g>
<g id="dl-streptococcus"><circle class="dot" cx="500" cy="1616" r="4"/><text class="ng" x="532" y="1643">Streptococcus</text></g>
<g id="dl-haemophilus"><circle class="dot" cx="451" cy="1654" r="4"/><text class="ng" x="471" y="1678">Haemophilus</text></g>
<g id="dl-hpiv3"><circle class="dot" cx="390" cy="1672" r="4"/><text class="ndr" x="356" y="1675">Human</text><text class="ndr" x="356" y="1692">parainfluenza</text><text class="ndr" x="356" y="1709">virus 3</text></g>
</g>
<text x="588" y="1469" font-size="15.5" font-style="italic" fill="#111" text-anchor="middle">Pseudomonas</text>
<g id="d-high-nodes">
<g id="dh-pseudomonas"><circle class="dot" cx="666" cy="1459" r="4"/></g>
<g id="dh-gemella"><circle class="dot" cx="943" cy="1256" r="4"/><text class="nd" x="947" y="1247">Gemella</text></g>
<g id="dh-fusobacterium"><circle class="dot" cx="895" cy="1274" r="4"/><text class="nd" x="884" y="1262">Fusobacterium</text></g>
<g id="dh-actinobacillus"><circle class="dot" cx="778" cy="1284" r="4"/><text class="nd" x="735" y="1271">Actinobacillus</text></g>
<g id="dh-leptotrichia"><circle class="dot" cx="836" cy="1288" r="4"/><text class="nd" x="838" y="1278">Leptotrichia</text></g>
<g id="dh-granulicatella"><circle class="dot" cx="723" cy="1316" r="4"/><text class="nd" x="710" y="1301">Granulicatella</text></g>
<g id="dh-actinomyces"><circle class="dot" cx="792" cy="1308" r="4"/><text class="nd" x="815" y="1301">Actinomyces</text></g>
<g id="dh-hpiv3"><circle class="dot" cx="895" cy="1304" r="4"/><text class="ndr" x="927" y="1305">Human</text><text class="ndr" x="927" y="1322">Parainfluenza</text><text class="ndr" x="927" y="1339">virus 3</text></g>
<g id="dh-candida"><circle class="dot" cx="982" cy="1311" r="4"/><text class="ng" x="1005" y="1305">Candida</text></g>
<g id="dh-neisseria"><circle class="dot" cx="856.5" cy="1351" r="4"/><text class="nd" x="866" y="1346">Neisseria</text></g>
<g id="dh-porphyromonas"><circle class="dot" cx="939" cy="1356" r="4"/><text class="nd" x="996" y="1357">Porphyromonas</text></g>
<g id="dh-prevotella"><circle class="dot" cx="893" cy="1393" r="4"/><text class="nd" x="935" y="1389">Prevotella</text></g>
<g id="dh-veillonella"><circle class="dot" cx="961.5" cy="1406" r="4"/><text class="nd" x="1006" y="1410">Veillonella</text></g>
<g id="dh-aspergillus"><circle class="dot" cx="899.5" cy="1429" r="4"/><text class="nd" x="950" y="1433">Aspergillus</text></g>
<g id="dh-klebsiella"><circle class="dot" cx="963" cy="1446" r="4"/><text class="ng" x="1005" y="1452">Klebsiella</text></g>
<g id="dh-penicillium"><circle class="dot" cx="906.5" cy="1521" r="4"/><text class="nd" x="935" y="1537">Penicillium</text></g>
<g id="dh-cryptococcus"><circle class="dot" cx="863" cy="1547" r="4"/><text class="ng" x="890" y="1567">Cryptococcus</text></g>
<g id="dh-saccharomyces"><circle class="dot" cx="872" cy="1589" r="4"/><text class="ng" x="903" y="1607">Saccharomyces</text></g>
<g id="dh-haemophilus"><circle class="dot" cx="768" cy="1624" r="4"/><text class="ng" x="764" y="1642">Haemophilus</text></g>
<g id="dh-streptococcus"><circle class="dot" cx="841" cy="1635" r="4"/><text class="ng" x="882" y="1654">Streptococcus</text></g>
</g>

<g id="legend-d">
<text class="lg" x="1027" y="1650">Interaction</text>
<rect x="1018.5" y="1657" width="19.5" height="20" fill="#036464"/>
<rect x="1018.5" y="1677" width="19.5" height="19" fill="#e04a28"/>
<text x="1005" y="1675" font-size="16" fill="#111" text-anchor="middle">+</text>
<text x="1005" y="1693" font-size="16" fill="#111" text-anchor="middle">−</text>
</g>
</svg>
